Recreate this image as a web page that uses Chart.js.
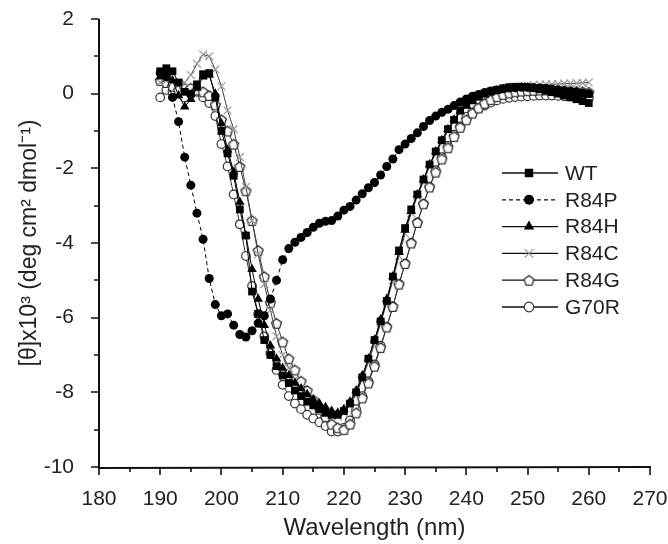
<!DOCTYPE html>
<html>
<head>
<meta charset="utf-8">
<script src="https://cdn.jsdelivr.net/npm/chart.js@4.4.1/dist/chart.umd.min.js"></script>
<style>
  html, body { margin: 0; padding: 0; background: #fff; }
  canvas { display: block; }
</style>
</head>
<body>
<canvas id="cdChart" width="668" height="544"></canvas>
<script>
// wavelength (nm), one reading per nm
const wavelengths = [190,191,192,193,194,195,196,197,198,199,200,201,202,203,204,205,206,207,208,209,
  210,211,212,213,214,215,216,217,218,219,220,221,222,223,224,225,226,227,228,229,
  230,231,232,233,234,235,236,237,238,239,240,241,242,243,244,245,246,247,248,249,
  250,251,252,253,254,255,256,257,258,259,260];

// [θ] x10^3 for each variant
const wt = [0.60,0.68,0.60,0.30,0.05,0.00,0.25,0.52,0.55,-0.10,-1.00,-1.60,-2.20,-3.10,-3.80,-5.30,-5.90,-6.60,-7.00,-7.30,
  -7.55,-7.75,-7.95,-8.10,-8.25,-8.35,-8.45,-8.55,-8.60,-8.60,-8.50,-8.30,-8.00,-7.60,-7.10,-6.60,-6.10,-5.55,-4.90,-4.20,
  -3.60,-3.10,-2.70,-2.30,-1.90,-1.55,-1.25,-0.95,-0.70,-0.45,-0.30,-0.18,-0.08,0.00,0.06,0.10,0.14,0.17,0.18,0.18,
  0.17,0.15,0.12,0.08,0.04,0.00,-0.05,-0.10,-0.15,-0.20,-0.25];
const r84p = [0.55,0.45,-0.10,-0.75,-1.70,-2.45,-3.20,-3.90,-4.95,-5.65,-5.95,-5.90,-6.20,-6.45,-6.52,-6.35,-6.15,-5.95,-5.50,-5.00,
  -4.45,-4.15,-3.98,-3.85,-3.72,-3.58,-3.47,-3.42,-3.40,-3.28,-3.12,-3.02,-2.85,-2.68,-2.52,-2.38,-2.18,-1.95,-1.75,-1.50,
  -1.35,-1.20,-1.05,-0.88,-0.72,-0.60,-0.50,-0.42,-0.32,-0.22,-0.14,-0.07,-0.02,0.03,0.07,0.10,0.13,0.15,0.16,0.17,
  0.17,0.16,0.15,0.14,0.12,0.10,0.08,0.06,0.04,0.02,0.00];
const r84h = [0.45,0.55,0.35,-0.05,-0.35,-0.15,0.15,0.45,0.50,0.00,-0.80,-1.50,-2.10,-2.90,-3.80,-4.70,-5.50,-6.20,-6.75,-7.10,
  -7.35,-7.55,-7.75,-7.90,-8.05,-8.20,-8.30,-8.40,-8.50,-8.55,-8.45,-8.25,-7.95,-7.55,-7.10,-6.60,-6.05,-5.50,-4.90,-4.25,
  -3.65,-3.15,-2.70,-2.30,-1.90,-1.55,-1.25,-0.95,-0.70,-0.48,-0.32,-0.20,-0.10,-0.02,0.04,0.08,0.12,0.15,0.16,0.17,
  0.16,0.15,0.13,0.11,0.09,0.07,0.05,0.03,0.01,-0.01,-0.03];
const r84c = [0.30,0.35,0.30,0.25,0.30,0.50,0.80,1.05,1.00,0.65,0.20,-0.45,-0.95,-1.70,-2.50,-3.40,-4.30,-5.10,-5.80,-6.50,
  -7.00,-7.35,-7.65,-7.90,-8.10,-8.25,-8.40,-8.50,-8.60,-8.65,-8.55,-8.35,-8.05,-7.65,-7.20,-6.70,-6.15,-5.60,-5.00,-4.35,
  -3.75,-3.20,-2.75,-2.35,-1.95,-1.60,-1.30,-1.00,-0.72,-0.50,-0.33,-0.20,-0.10,-0.02,0.05,0.10,0.14,0.17,0.19,0.21,
  0.22,0.23,0.24,0.25,0.25,0.26,0.27,0.27,0.28,0.29,0.30];
const r84g = [0.35,0.30,0.20,0.10,0.15,0.15,0.10,0.05,-0.05,-0.30,-0.70,-1.00,-1.35,-1.95,-2.60,-3.40,-4.20,-4.90,-5.60,-6.15,
  -6.65,-7.10,-7.40,-7.70,-7.95,-8.20,-8.45,-8.65,-8.85,-8.95,-9.00,-8.85,-8.55,-8.15,-7.75,-7.30,-6.80,-6.25,-5.70,-5.10,
  -4.55,-4.00,-3.45,-2.95,-2.50,-2.10,-1.75,-1.45,-1.15,-0.90,-0.70,-0.52,-0.38,-0.26,-0.16,-0.08,-0.02,0.02,0.05,0.07,
  0.08,0.09,0.10,0.10,0.10,0.09,0.08,0.07,0.06,0.05,0.04];
const g70r = [-0.10,0.10,0.05,0.00,-0.10,0.00,0.05,-0.10,-0.25,-0.60,-1.35,-1.95,-2.70,-3.50,-4.35,-5.15,-5.90,-6.50,-6.95,-7.40,
  -7.80,-8.10,-8.30,-8.45,-8.60,-8.70,-8.80,-8.90,-9.05,-9.05,-8.95,-8.75,-8.45,-8.10,-7.70,-7.25,-6.75,-6.25,-5.70,-5.10,
  -4.55,-4.00,-3.45,-2.95,-2.50,-2.05,-1.70,-1.40,-1.10,-0.88,-0.62,-0.50,-0.40,-0.32,-0.24,-0.18,-0.14,-0.11,-0.09,-0.08,
  -0.07,-0.06,-0.05,-0.05,-0.05,-0.06,-0.07,-0.08,-0.09,-0.10,-0.12];

const seriesNames = ['WT', 'R84P', 'R84H', 'R84C', 'R84G', 'G70R'];
const xTicks = [180, 190, 200, 210, 220, 230, 240, 250, 260, 270];
const yTicks = [-10, -8, -6, -4, -2, 0, 2];

const FONT = "'Liberation Sans', Arial, sans-serif";

// open pentagon marker (Chart.js has no pentagon style)
function makePentagon(r) {
  const c = document.createElement('canvas');
  const s = Math.ceil(r * 2 + 4);
  c.width = s; c.height = s;
  const g = c.getContext('2d');
  g.beginPath();
  for (let i = 0; i < 5; i++) {
    const a = -Math.PI / 2 + i * 2 * Math.PI / 5;
    const px = s / 2 + r * Math.cos(a), py = s / 2 + 0.6 + r * Math.sin(a);
    if (i === 0) g.moveTo(px, py); else g.lineTo(px, py);
  }
  g.closePath();
  g.fillStyle = '#fff';
  g.fill();
  g.lineWidth = 1.3;
  g.strokeStyle = '#333';
  g.stroke();
  return c;
}
const pentagon = makePentagon(5.2);

function toPoints(vals) {
  return wavelengths.map((w, i) => ({ x: w, y: vals[i] }));
}

const datasets = [
  { label: seriesNames[0], data: toPoints(wt), pointStyle: 'rect', pointRadius: 5.5,
    backgroundColor: '#000', borderColor: '#000', pointBorderWidth: 0 },
  { label: seriesNames[1], data: toPoints(r84p), pointStyle: 'circle', pointRadius: 4.5,
    backgroundColor: '#000', borderColor: '#000', pointBorderWidth: 0, borderDash: [4, 3] },
  { label: seriesNames[2], data: toPoints(r84h), pointStyle: 'triangle', pointRadius: 5.5,
    backgroundColor: '#000', borderColor: '#000', pointBorderWidth: 0 },
  { label: seriesNames[3], data: toPoints(r84c), pointStyle: 'crossRot', pointRadius: 5.5,
    backgroundColor: '#999', borderColor: '#444', pointBorderColor: '#999', pointBorderWidth: 1.2 },
  { label: seriesNames[4], data: toPoints(r84g), pointStyle: pentagon, pointRadius: 5.2,
    backgroundColor: '#fff', borderColor: '#333', pointBorderWidth: 1.3 },
  { label: seriesNames[5], data: toPoints(g70r), pointStyle: 'circle', pointRadius: 4.3,
    backgroundColor: '#fff', borderColor: '#333', pointBorderWidth: 1.2 }
];
datasets.forEach(d => {
  d.borderWidth = 1;
  d.tension = 0;
  d.pointBackgroundColor = d.backgroundColor;
  if (!d.pointBorderColor) d.pointBorderColor = d.borderColor;
});

// axis lines plus major/minor outward ticks
const axisTicks = {
  id: 'axisTicks',
  afterDraw(chart) {
    const { ctx, chartArea: a, scales: { x, y } } = chart;
    ctx.save();
    ctx.strokeStyle = '#111';
    ctx.lineWidth = 2;
    ctx.beginPath();
    ctx.moveTo(a.left, a.top); ctx.lineTo(a.left, a.bottom + 1); ctx.lineTo(a.right + 1, a.bottom);
    ctx.stroke();
    ctx.lineWidth = 1.6;
    ctx.beginPath();
    for (let v = x.min; v <= x.max; v += 5) {
      const px = Math.round(x.getPixelForValue(v));
      const len = v % 10 === 0 ? 8 : 5;
      ctx.moveTo(px, a.bottom); ctx.lineTo(px, a.bottom + len);
    }
    for (let v = y.min; v <= y.max; v += 1) {
      const py = Math.round(y.getPixelForValue(v));
      const len = v % 2 === 0 ? 8 : 5;
      ctx.moveTo(a.left, py); ctx.lineTo(a.left - len, py);
    }
    ctx.stroke();
    ctx.restore();
  }
};

// legend with line + marker samples
const sampleLegend = {
  id: 'sampleLegend',
  afterDraw(chart) {
    const { ctx } = chart;
    const x0 = 502, x1 = 558, xm = 529, xt = 565, y0 = 173, dy = 26.8;
    ctx.save();
    chart.data.datasets.forEach((d, i) => {
      const yy = y0 + i * dy;
      ctx.strokeStyle = '#111';
      ctx.lineWidth = 1.3;
      ctx.setLineDash(d.borderDash || []);
      ctx.beginPath(); ctx.moveTo(x0, yy); ctx.lineTo(x1, yy); ctx.stroke();
      ctx.setLineDash([]);
      ctx.fillStyle = d.pointBackgroundColor;
      ctx.strokeStyle = d.pointBorderColor;
      ctx.lineWidth = d.pointBorderWidth;
      Chart.helpers.drawPoint(ctx, {
        pointStyle: d.pointStyle, radius: d.pointRadius + 0.5, rotation: 0, borderWidth: d.pointBorderWidth
      }, xm, yy);
      ctx.fillStyle = '#222';
      ctx.font = '21px ' + FONT;
      ctx.textBaseline = 'middle';
      ctx.fillText(d.label, xt, yy + 1);
    });
    ctx.restore();
  }
};

new Chart(document.getElementById('cdChart').getContext('2d'), {
  type: 'line',
  data: { datasets },
  options: {
    responsive: false,
    animation: false,
    layout: { padding: { top: 19, right: 18, left: 0, bottom: 0 } },
    plugins: { legend: { display: false }, tooltip: { enabled: false } },
    scales: {
      x: {
        type: 'linear', min: 180, max: 270,
        afterBuildTicks: s => { s.ticks = xTicks.map(v => ({ value: v })); },
        afterFit: s => { s.height = 77; s.paddingLeft = 0; s.paddingRight = 0; },
        grid: { display: false },
        border: { display: false },
        ticks: { color: '#222', font: { family: FONT, size: 21 }, padding: 12, maxRotation: 0 },
        title: { display: true, text: 'Wavelength (nm)', color: '#222',
          font: { family: FONT, size: 24 }, padding: { top: 0, bottom: 1 } }
      },
      y: {
        type: 'linear', min: -10, max: 2,
        afterBuildTicks: s => { s.ticks = yTicks.map(v => ({ value: v })); },
        afterFit: s => { s.width = 99; s.paddingTop = 0; s.paddingBottom = 0; },
        grid: { display: false },
        border: { display: false },
        ticks: { color: '#222', font: { family: FONT, size: 21 }, padding: 17 },
        title: { display: true, text: '[θ]x10³ (deg cm² dmol⁻¹)', color: '#222',
          font: { family: FONT, size: 23 }, padding: { top: 16, bottom: 0 } }
      }
    }
  },
  plugins: [axisTicks, sampleLegend]
});
</script>
</body>
</html>
